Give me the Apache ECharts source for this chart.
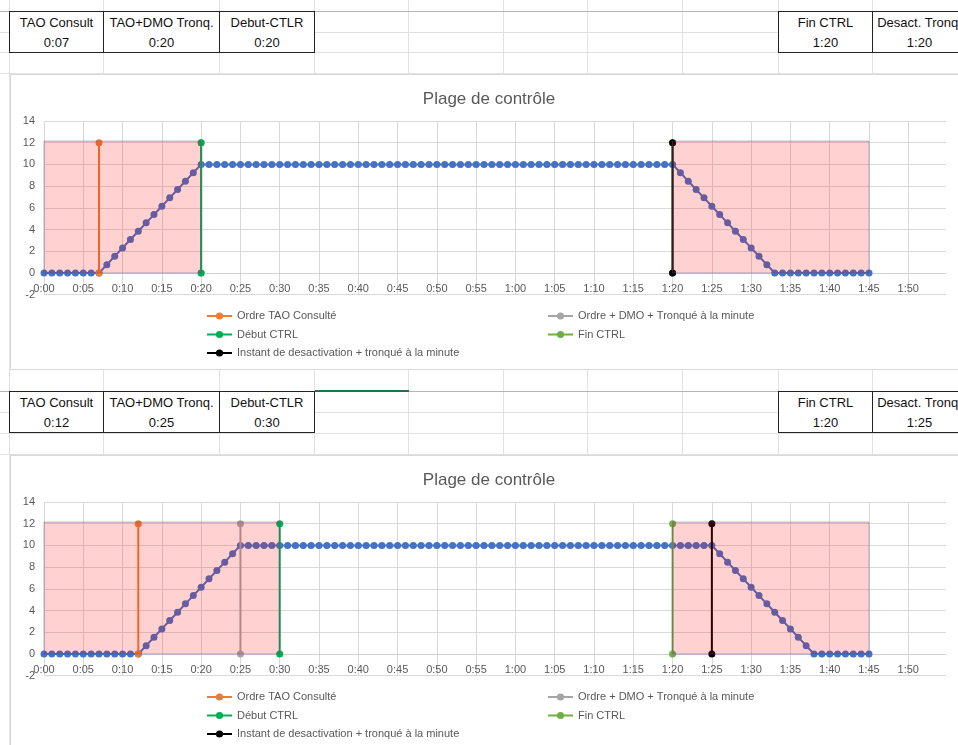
<!DOCTYPE html>
<html>
<head>
<meta charset="utf-8">
<script src="https://cdn.jsdelivr.net/npm/echarts@6/dist/echarts.min.js"></script>
<style>
  html,body{margin:0;padding:0;}
  body{width:958px;height:745px;overflow:hidden;background:#fff;position:relative;font-family:'Liberation Sans',Arial,sans-serif;}
  .gl{position:absolute;background:#e1e1e1;}
  .cell{position:absolute;box-sizing:border-box;text-align:center;font-size:13px;color:#111;line-height:20px;white-space:nowrap;overflow:hidden;background:#fff;}
  .chart{position:absolute;background:#fff;border:1px solid #d9d9d9;box-sizing:border-box;}
</style>
</head>
<body>
<div id="sheet"></div>
<div id="c1" class="chart" style="left:10px;top:74px;width:958px;height:296px;"></div>
<div id="c2" class="chart" style="left:10px;top:455px;width:958px;height:296px;"></div>
<script>
// ---------- DATA ----------
const minutes = [0,1,2,3,4,5,6,7,8,9,10,11,12,13,14,15,16,17,18,19,20,21,22,23,24,25,26,27,28,29,30,31,32,33,34,35,36,37,38,39,40,41,42,43,44,45,46,47,48,49,50,51,52,53,54,55,56,57,58,59,60,61,62,63,64,65,66,67,68,69,70,71,72,73,74,75,76,77,78,79,80,81,82,83,84,85,86,87,88,89,90,91,92,93,94,95,96,97,98,99,100,101,102,103,104,105];

const curve1 = [0,0,0,0,0,0,0,0,
  0.77,1.54,2.31,3.08,3.85,4.62,5.38,6.15,6.92,7.69,8.46,9.23,
  10,10,10,10,10,10,10,10,10,10,10,10,10,10,10,10,10,10,10,10,10,10,10,10,10,10,10,10,10,10,10,10,10,10,10,10,10,10,10,10,10,10,10,10,10,10,10,10,10,10,10,10,10,10,10,10,10,10,10,10,10,
  9.23,8.46,7.69,6.92,6.15,5.38,4.62,3.85,3.08,2.31,1.54,0.77,
  0,0,0,0,0,0,0,0,0,0,0,0,0];

const curve2 = [0,0,0,0,0,0,0,0,0,0,0,0,0,
  0.77,1.54,2.31,3.08,3.85,4.62,5.38,6.15,6.92,7.69,8.46,9.23,
  10,10,10,10,10,10,10,10,10,10,10,10,10,10,10,10,10,10,10,10,10,10,10,10,10,10,10,10,10,10,10,10,10,10,10,10,10,10,10,10,10,10,10,10,10,10,10,10,10,10,10,10,10,10,10,10,10,10,10,10,10,
  9.23,8.46,7.69,6.92,6.15,5.38,4.62,3.85,3.08,2.31,1.54,0.77,
  0,0,0,0,0,0,0,0];

// event times in minutes: [TAO consult, TAO+DMO tronq, Debut CTRL, Fin CTRL, Desact tronq]
const events1 = [7, 20, 20, 80, 80];
const events2 = [12, 25, 30, 80, 85];
const seriesEnd = 105;          // 1:45
const eventLineRange = [0, 12];  // vertical event lines from 0 to 12
const zoneRange = [0, 12.15];    // shaded zones height

const eventNames = ['Ordre TAO Consulté','Ordre + DMO + Tronqué à la minute','Début CTRL','Fin CTRL','Instant de desactivation + tronqué à la minute'];
const eventColors = ['#ED7D31','#A5A5A5','#00B050','#70AD47','#000000'];
const headersLeft = ['TAO Consult','TAO+DMO Tronq.','Debut-CTLR'];
const headersRight = ['Fin CTRL','Desact. Tronq.'];
const chartTitle = 'Plage de contrôle';
const yTicks = {min:-2, max:14, interval:2};
const xTicks = {min:0, max:114.8, interval:5};

function fmt(v){ v = Math.round(v); return Math.floor(v/60) + ':' + String(v%60).padStart(2,'0'); }

// ---------- SHEET ----------
const sheet = document.getElementById('sheet');
function div(cls, css, txt){ const d=document.createElement('div'); d.className=cls; d.style.cssText=css; if(txt!==undefined) d.textContent=txt; sheet.appendChild(d); return d; }
const colX = [9,103,219,314,408,503,587,682,778,872];
colX.forEach(x=>div('gl',`left:${x}px;top:0;width:1px;height:745px;`));
[32,52,73,412,433,454].forEach(y=>div('gl',`left:0;top:${y}px;width:958px;height:1px;`));
[11,391].forEach(y=>div('gl',`left:0;top:${y}px;width:958px;height:1px;background:#b4b4b4;`));
div('gl',`left:315px;top:390px;width:94px;height:2px;background:#217346;`);

function table(top, vals){
  const lc = [[9,103],[103,219],[219,314]];
  const rc = [[778,872],[872,966]];
  const all = lc.map((c,i)=>[c,headersLeft[i],fmt(vals[i])]).concat(rc.map((c,i)=>[c,headersRight[i],fmt(vals[3+i])]));
  all.forEach(([c,h,v])=>{
    div('cell',`left:${c[0]}px;top:${top}px;width:${c[1]-c[0]+1}px;height:22px;border:1px solid #222;border-bottom:1px solid #888;line-height:21px;`, h);
    div('cell',`left:${c[0]}px;top:${top+21}px;width:${c[1]-c[0]+1}px;height:21px;border:1px solid #222;border-top:none;line-height:21px;`, v);
  });
}
table(11, events1);
table(391, events2);

// ---------- CHARTS ----------
const FONT = 'Liberation Sans';
const GRID_H = 173.7;
function makeOption(curve, ev){
  const zones = [[0, ev[2], zoneRange[0], zoneRange[1]], [ev[3], seriesEnd, zoneRange[0], zoneRange[1]]];
  const series = [{
    name:'Courbe', type:'line', data: minutes.map((m,i)=>[m, curve[i]]),
    symbol:'circle', symbolSize:7, showSymbol:true,
    lineStyle:{color:'#4472C4', width:2}, itemStyle:{color:'#4472C4'}, z:2
  }];
  ev.forEach((t,i)=>{
    series.push({
      name:eventNames[i], type:'line', data:[[t,eventLineRange[0]],[t,eventLineRange[1]]],
      symbol:'circle', symbolSize:7, lineStyle:{color:eventColors[i], width:2}, itemStyle:{color:eventColors[i]}, z:3
    });
  });
  series.push({
    name:'zones', type:'custom', data: zones, encode:{x:[0,1], y:[2,3]}, z:10, silent:true,
    renderItem:function(params, api){
      const p0 = api.coord([api.value(0), api.value(3)]);
      const p1 = api.coord([api.value(1), api.value(2)]);
      return {type:'rect', shape:{x:p0[0], y:p0[1], width:p1[0]-p0[0], height:p1[1]-p0[1]},
        style:{fill:'rgba(255,0,0,0.18)', stroke:'rgba(70,80,150,0.4)', lineWidth:1}};
    }
  });
  // x axis sits on the y=0 line: shift it up by the height of the negative part of the y range
  const zeroOffset = -GRID_H * (0 - yTicks.min) / (yTicks.max - yTicks.min);
  const legendText = {color:'#595959', fontSize:11, fontFamily:FONT, lineHeight:14};
  return {
    animation:false,
    title:{text:chartTitle, left:'center', top:11, textStyle:{fontSize:17, fontWeight:'normal', color:'#595959', fontFamily:FONT}},
    grid:{left:33, top:46, width:902, height:GRID_H, containLabel:false},
    xAxis:{type:'value', min:xTicks.min, max:xTicks.max, interval:xTicks.interval, offset:zeroOffset,
      axisLine:{show:true, onZero:false, lineStyle:{color:'#d0d0d0'}}, axisTick:{show:false},
      axisLabel:{margin:10, color:'#595959', fontSize:11, fontFamily:FONT, showMaxLabel:false,
        formatter:v=> (Math.abs(v%5)<1e-6 ? fmt(v) : '')},
      splitLine:{show:true, showMaxLine:false, lineStyle:{color:'#d9d9d9'}}},
    yAxis:{type:'value', min:yTicks.min, max:yTicks.max, interval:yTicks.interval,
      axisLine:{show:false}, axisTick:{show:false},
      axisLabel:{margin:9, color:'#595959', fontSize:11, fontFamily:FONT},
      splitLine:{lineStyle:{color:'#d9d9d9'}}},
    legend:[
      {data:[eventNames[0],eventNames[2],eventNames[4]], orient:'vertical', left:195, top:234, padding:0, itemGap:4.5, itemWidth:25, itemHeight:9, itemGap:4.5, textStyle:legendText},
      {data:[eventNames[1],eventNames[3]], orient:'vertical', left:536, top:234, padding:0, itemGap:4.5, itemWidth:25, itemHeight:9, textStyle:legendText}
    ],
    series: series
  };
}
echarts.init(document.getElementById('c1'), null, {renderer:'canvas'}).setOption(makeOption(curve1, events1));
echarts.init(document.getElementById('c2'), null, {renderer:'canvas'}).setOption(makeOption(curve2, events2));
</script>
</body>
</html>
